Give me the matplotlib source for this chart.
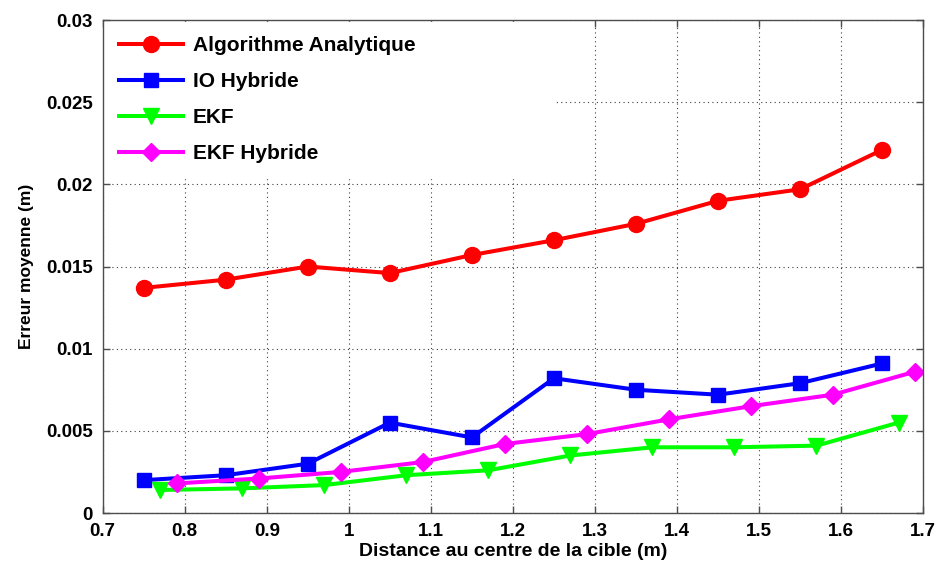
import matplotlib
matplotlib.use("Agg")
import matplotlib.pyplot as plt

plt.rcParams["font.family"] = ["Liberation Sans", "DejaVu Sans"]
plt.rcParams["font.weight"] = "bold"

# distances (m) for each estimator
x_analytique = [0.75, 0.85, 0.95, 1.05, 1.15, 1.25, 1.35, 1.45, 1.55, 1.65]
x_io = [0.75, 0.85, 0.95, 1.05, 1.15, 1.25, 1.35, 1.45, 1.55, 1.65]
x_ekf = [0.77, 0.87, 0.97, 1.07, 1.17, 1.27, 1.37, 1.47, 1.57, 1.67]
x_ekf_hyb = [0.79, 0.89, 0.99, 1.09, 1.19, 1.29, 1.39, 1.49, 1.59, 1.69]

# mean error (m)
err_analytique = [0.0137, 0.0142, 0.0150, 0.0146, 0.0157, 0.0166, 0.0176, 0.0190, 0.0197, 0.0221]
err_io = [0.0020, 0.0023, 0.0030, 0.0055, 0.0046, 0.0082, 0.0075, 0.0072, 0.0079, 0.0091]
err_ekf = [0.0014, 0.0015, 0.0017, 0.0023, 0.0026, 0.0035, 0.0040, 0.0040, 0.0041, 0.0055]
err_ekf_hyb = [0.0018, 0.0021, 0.0025, 0.0031, 0.0042, 0.0048, 0.0057, 0.0065, 0.0072, 0.0086]

labels = ["Algorithme Analytique", "IO Hybride", "EKF", "EKF Hybride"]
xticks = [0.7, 0.8, 0.9, 1, 1.1, 1.2, 1.3, 1.4, 1.5, 1.6, 1.7]
yticks = [0, 0.005, 0.01, 0.015, 0.02, 0.025, 0.03]

fig = plt.figure(figsize=(9.42, 5.64), dpi=100)
ax = fig.add_axes([0.109, 0.0904, 0.871, 0.8741])

ax.plot(x_analytique, err_analytique, "-o", color="#ff0000", lw=2.9, ms=11.5, label=labels[0])
ax.plot(x_io, err_io, "-s", color="#0000ff", lw=2.9, ms=10.5, label=labels[1])
ax.plot(x_ekf, err_ekf, "-v", color="#00ff00", lw=2.9, ms=11.5, label=labels[2])
ax.plot(x_ekf_hyb, err_ekf_hyb, "-D", color="#ff00ff", lw=2.9, ms=9.5, label=labels[3])

ax.set_xlim(0.7, 1.7)
ax.set_ylim(0, 0.03)
ax.set_xticks(xticks)
ax.set_xticklabels(["0.7", "0.8", "0.9", "1", "1.1", "1.2", "1.3", "1.4", "1.5", "1.6", "1.7"])
ax.set_yticks(yticks)
ax.set_yticklabels(["0", "0.005", "0.01", "0.015", "0.02", "0.025", "0.03"])
ax.tick_params(direction="in", length=5, width=1, labelsize=13.5, color="0.3",
               top=True, right=True)
ax.tick_params(axis="x", pad=7)
ax.tick_params(axis="y", pad=7)
for lab in ax.get_xticklabels() + ax.get_yticklabels():
    lab.set_fontweight("bold")

ax.grid(True, linestyle=(0, (1, 3)), color="0.25", linewidth=0.8)
for sp in ax.spines.values():
    sp.set_color("0.3")
    sp.set_linewidth(1.0)
    sp.set_zorder(10)

ax.set_xlabel("Distance au centre de la cible (m)", fontsize=14, fontweight="bold", labelpad=2)
ax.set_ylabel("Erreur moyenne (m)", fontsize=12.5, fontweight="bold", labelpad=9)

# white box behind the legend, wider than its content
leg = ax.legend(loc="upper left", bbox_to_anchor=(0.002, 0.0, 0.547, 0.997), mode="expand",
                frameon=True, fancybox=False, fontsize=15,
                handlelength=3.1, labelspacing=0.82, borderaxespad=0.0,
                handletextpad=0.45, borderpad=0.7)
leg.get_frame().set_edgecolor("white")
leg.get_frame().set_facecolor("white")
leg.get_frame().set_alpha(1.0)
for t in leg.get_texts():
    t.set_fontweight("bold")

fig.savefig("out.png", dpi=100, facecolor="white")
